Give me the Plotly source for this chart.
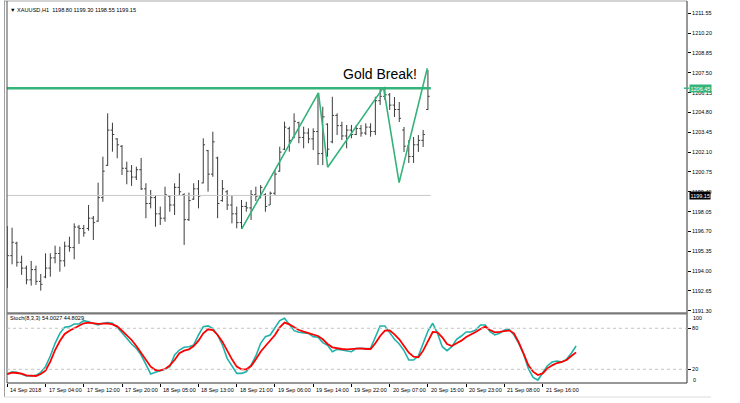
import plotly.graph_objects as go

W, H = 740, 403
def px(x): return x / W
def py(y): return 1 - y / H

# ---------------- data ----------------
high = [1197.07, 1196.95, 1196.00, 1195.05, 1194.37, 1194.69, 1194.37, 1193.80, 1195.21, 1195.21,
        1195.73, 1195.66, 1196.00, 1196.34, 1197.25, 1197.14, 1197.14, 1198.50, 1197.75, 1200.02,
        1201.79, 1204.74, 1204.10, 1203.04, 1202.58, 1201.45, 1201.22, 1201.11, 1201.70, 1199.98,
        1199.52, 1199.18, 1198.39, 1199.75, 1199.18, 1199.98, 1200.66, 1199.30, 1199.34, 1199.98,
        1200.20, 1203.04, 1202.25, 1203.49, 1201.79, 1200.20, 1199.52, 1199.18, 1198.39, 1198.84,
        1198.72, 1199.52, 1199.75, 1199.86, 1199.30, 1199.41, 1200.88, 1202.47, 1204.17, 1203.83,
        1204.74, 1204.17, 1203.83, 1203.72, 1203.72, 1206.10, 1205.19, 1204.06, 1205.87, 1204.74,
        1204.17, 1203.95, 1203.95, 1203.95, 1203.95, 1204.06, 1204.06, 1205.87, 1206.44, 1206.55,
        1206.12, 1205.85, 1205.51, 1203.81, 1202.92, 1203.13, 1203.26, 1203.61, 1207.69]
low = [1192.85, 1194.46, 1194.30, 1193.74, 1193.10, 1193.01, 1193.06, 1192.67, 1193.51, 1193.62,
       1194.53, 1193.96, 1194.30, 1195.32, 1194.80, 1195.85, 1196.34, 1196.75, 1196.12, 1197.36,
       1198.72, 1201.16, 1202.13, 1201.68, 1200.54, 1199.91, 1199.80, 1200.20, 1199.52, 1197.60,
       1198.27, 1197.02, 1197.14, 1197.36, 1198.04, 1197.82, 1199.18, 1195.78, 1197.41, 1198.84,
       1198.27, 1199.98, 1199.41, 1200.42, 1197.60, 1198.72, 1198.16, 1197.25, 1196.91, 1196.87,
       1198.04, 1197.48, 1198.77, 1198.95, 1198.04, 1198.50, 1199.18, 1200.77, 1202.24, 1202.13,
       1203.04, 1202.70, 1202.36, 1202.70, 1202.24, 1201.22, 1201.22, 1201.79, 1202.70, 1203.26,
       1202.92, 1202.36, 1203.04, 1203.26, 1203.15, 1203.26, 1203.15, 1203.26, 1205.31, 1205.65,
       1204.97, 1204.49, 1204.15, 1202.11, 1201.36, 1201.36, 1202.11, 1202.45, 1204.97]
open_ = [1196.20, 1195.05, 1195.90, 1194.60, 1194.20, 1193.40, 1194.10, 1193.30, 1193.60, 1194.20,
         1194.90, 1195.20, 1194.70, 1195.70, 1195.60, 1197.00, 1196.90, 1196.90, 1197.60, 1197.40,
         1199.00, 1201.20, 1203.60, 1203.00, 1202.50, 1201.00, 1200.80, 1200.40, 1200.90, 1199.60,
         1198.60, 1199.00, 1197.90, 1197.60, 1199.10, 1198.50, 1199.70, 1199.20, 1197.50, 1198.90,
         1199.60, 1200.00, 1202.20, 1200.60, 1201.70, 1198.80, 1199.40, 1198.50, 1197.90, 1197.30,
         1198.40, 1198.30, 1199.20, 1199.10, 1199.20, 1198.50, 1199.30, 1200.80, 1202.30, 1203.70,
         1203.10, 1204.10, 1203.10, 1203.40, 1203.00, 1203.50, 1202.00, 1204.00, 1202.80, 1204.60,
         1203.90, 1203.20, 1203.60, 1203.30, 1203.70, 1203.40, 1203.80, 1203.50, 1205.60, 1205.90,
         1206.00, 1205.30, 1205.00, 1203.60, 1202.50, 1201.80, 1202.60, 1202.90, 1205.00]
close = [1195.05, 1195.96, 1194.60, 1194.20, 1193.40, 1194.10, 1193.30, 1193.10, 1194.20, 1194.90,
         1195.20, 1194.70, 1195.70, 1195.60, 1197.00, 1196.90, 1196.60, 1197.60, 1197.30, 1199.00,
         1200.80, 1203.60, 1203.30, 1202.60, 1201.00, 1200.80, 1200.40, 1200.90, 1199.60, 1198.60,
         1199.00, 1197.90, 1197.60, 1199.20, 1198.50, 1199.70, 1199.40, 1197.50, 1198.80, 1199.60,
         1199.10, 1202.60, 1200.60, 1202.80, 1198.60, 1199.60, 1198.50, 1197.90, 1197.30, 1198.40,
         1198.30, 1199.20, 1199.10, 1199.70, 1198.40, 1199.30, 1200.60, 1202.10, 1203.80, 1202.90,
         1204.20, 1203.10, 1203.40, 1203.00, 1203.50, 1202.00, 1204.50, 1202.30, 1204.60, 1203.90,
         1203.20, 1203.60, 1203.30, 1203.70, 1203.40, 1203.80, 1203.50, 1205.60, 1205.90, 1206.00,
         1205.30, 1205.00, 1204.40, 1202.50, 1201.80, 1202.60, 1202.90, 1203.30, 1205.90]
bars = list(range(1, len(high) + 1))

stoch_main = [13.1, 16.5, 15.6, 13.1, 10.2, 10.2, 11.2, 15.6, 23.9, 39.5,
              58.0, 72.6, 81.4, 82.4, 86.3, 86.3, 91.2, 89.7, 87.3, 84.8,
              87.3, 88.3, 87.3, 81.4, 73.6, 65.3, 57.0, 50.7, 40.9, 27.3,
              13.1, 15.6, 18.0, 20.0, 23.9, 40.9, 48.2, 52.2, 53.1, 55.6,
              70.2, 82.4, 83.4, 80.0, 70.2, 55.6, 36.1, 24.8, 14.1, 14.1,
              16.5, 26.3, 39.5, 58.0, 67.8, 70.2, 81.4, 91.2, 94.6, 84.8,
              76.5, 74.1, 73.6, 72.6, 67.8, 66.8, 59.0, 55.1, 45.8, 49.2,
              48.2, 47.3, 45.8, 50.7, 50.2, 50.2, 50.7, 66.8, 83.4, 83.4,
              74.1, 63.9, 57.0, 47.3, 33.6, 33.6, 39.5, 57.0, 76.0, 87.3,
              72.6, 53.1, 47.3, 53.1, 63.9, 68.7, 74.6, 74.6, 77.5, 84.8,
              84.8, 75.1, 70.2, 72.6, 77.5, 78.5, 70.2, 58.0, 42.4, 21.4,
              8.3, 4.3, 14.1, 25.3, 30.7, 32.2, 30.7, 34.6, 43.4, 54.0027]
stoch_signal = [13.1, 15.1, 14.6, 13.6, 11.2, 10.2, 10.2, 13.1, 18.0, 31.2,
                48.2, 61.4, 71.7, 76.5, 80.4, 83.9, 87.3, 88.3, 87.3, 86.3,
                86.8, 87.3, 85.8, 82.9, 76.5, 70.2, 62.9, 54.1, 43.4, 34.6,
                23.9, 19.0, 18.5, 20.4, 25.8, 33.6, 43.4, 47.3, 49.2, 54.1,
                61.9, 72.6, 78.5, 77.5, 70.2, 60.4, 47.3, 34.6, 23.9, 20.0,
                20.0, 24.8, 34.6, 45.8, 54.1, 61.9, 70.2, 81.4, 88.3, 85.8,
                81.4, 77.5, 75.1, 72.6, 70.2, 68.7, 63.9, 57.0, 52.2, 50.7,
                49.7, 49.2, 49.7, 50.7, 50.7, 49.7, 49.7, 58.0, 68.7, 76.5,
                77.0, 71.2, 63.9, 54.1, 44.3, 38.5, 37.5, 47.3, 60.9, 74.6,
                74.1, 66.8, 57.0, 54.1, 58.0, 61.9, 67.3, 70.7, 74.6, 79.0,
                82.4, 77.5, 74.1, 74.6, 76.0, 77.0, 72.6, 59.5, 43.4, 26.3,
                16.5, 11.7, 14.1, 21.4, 25.8, 29.2, 30.7, 33.6, 39.5, 44.8029]
stoch_x = list(range(1, len(stoch_main) + 1))

zigzag_bar = [50.04, 66.1, 68.03, 79.7, 82.97, 88.87]
zigzag_price = [1196.87, 1206.14, 1201.07, 1206.51, 1200.02, 1207.81]

level_price = 1206.45
bid_price = 1199.15
line_span = [0.94, 89.6]

price_ticks = [1211.55, 1210.20, 1208.85, 1207.50, 1206.15, 1204.80, 1203.45, 1202.10,
               1200.75, 1199.40, 1198.05, 1196.70, 1195.35, 1194.00, 1192.65, 1191.30]
time_labels = ["14 Sep 2018", "17 Sep 04:00", "17 Sep 12:00", "17 Sep 20:00", "18 Sep 05:00",
               "18 Sep 13:00", "18 Sep 21:00", "19 Sep 06:00", "19 Sep 14:00", "19 Sep 22:00",
               "20 Sep 07:00", "20 Sep 15:00", "20 Sep 23:00", "21 Sep 08:00", "21 Sep 16:00"]
time_label_bars = [1, 9, 17, 25, 33, 41, 49, 57, 65, 73, 81, 89, 97, 105, 113]

header = "▼ XAUUSD,H1  1198.80 1199.30 1198.55 1199.15"
stoch_header = "Stoch(8,3,3) 54.0027 44.8029"

# ---------------- styling ----------------
FONT = "Liberation Sans, Arial, sans-serif"
GREEN = "#34B37A"
TEAL = "#20B2AA"
RED = "#FF0000"
BARC = "#3c3c3c"
XR = [0.94, 143.2]
XD = [px(7), px(687)]

fig = go.Figure()
fig.add_trace(go.Ohlc(x=bars, open=open_, high=high, low=low, close=close,
                      increasing=dict(line=dict(color=BARC, width=1)),
                      decreasing=dict(line=dict(color=BARC, width=1)),
                      tickwidth=0.38, xaxis="x", yaxis="y", showlegend=False,
                      hoverinfo="skip"))
fig.add_trace(go.Scatter(x=line_span, y=[bid_price, bid_price], mode="lines",
                         line=dict(color="#c8c8c8", width=1), xaxis="x", yaxis="y",
                         showlegend=False, hoverinfo="skip"))
fig.add_trace(go.Scatter(x=line_span, y=[level_price, level_price], mode="lines",
                         line=dict(color=GREEN, width=2.6), xaxis="x", yaxis="y",
                         showlegend=False, hoverinfo="skip"))
fig.add_trace(go.Scatter(x=zigzag_bar, y=zigzag_price, mode="lines",
                         line=dict(color=GREEN, width=1.6), xaxis="x", yaxis="y",
                         showlegend=False, hoverinfo="skip"))
fig.add_trace(go.Scatter(x=stoch_x, y=stoch_main, mode="lines",
                         line=dict(color=TEAL, width=1.6), xaxis="x2", yaxis="y2",
                         showlegend=False, hoverinfo="skip"))
fig.add_trace(go.Scatter(x=stoch_x, y=stoch_signal, mode="lines",
                         line=dict(color=RED, width=1.8), xaxis="x2", yaxis="y2",
                         showlegend=False, hoverinfo="skip"))

shapes = []
def pline(x0, y0, x1, y1, color, width=1, dash=None):
    d = dict(type="line", xref="paper", yref="paper", x0=px(x0), y0=py(y0),
             x1=px(x1), y1=py(y1), line=dict(color=color, width=width))
    if dash:
        d["line"]["dash"] = dash
    shapes.append(d)

pline(4.5, 0.5, 4.5, 397, "#a0a0a0")
pline(4.5, 397, 711, 397, "#dcdcdc")
pline(4.5, 1, 687, 1, "#a8a8a8")
pline(7, 1, 7, 383, "#505050")
pline(687, 1, 687, 383, "#303030")
pline(7, 313.4, 687, 313.4, "#7a7a7a", 2.2)
pline(7, 383, 687, 383, "#303030")
pline(684, 88.2, 689, 88.2, GREEN, 1.5)
for lv in (80, 20):
    shapes.append(dict(type="line", xref="paper", yref="y2", x0=XD[0], x1=XD[1], y0=lv, y1=lv,
                       line=dict(color="#c4c4c4", width=1, dash="dot")))

ann = []
ann.append(dict(text=header, xref="paper", yref="paper", x=px(8), y=py(10), xanchor="left",
                yanchor="middle", showarrow=False, font=dict(family=FONT, size=5.6, color="#000")))
ann.append(dict(text=stoch_header, xref="paper", yref="paper", x=px(8), y=py(318),
                xanchor="left", yanchor="middle", showarrow=False,
                font=dict(family=FONT, size=5.6, color="#000")))
ann.append(dict(text="Gold Break!", xref="paper", yref="paper", x=px(341), y=py(73.5),
                xanchor="left", yanchor="middle", showarrow=False,
                font=dict(family=FONT, size=14, color="#000")))
for b, t in zip(time_label_bars, time_labels):
    ann.append(dict(text=t, xref="x2", yref="paper", x=b, y=py(389.5), xanchor="left",
                    yanchor="middle", xshift=1, showarrow=False,
                    font=dict(family=FONT, size=5.5, color="#000")))
ann.append(dict(text="%.2f" % level_price, xref="paper", yref="y", x=px(689), y=level_price,
                xanchor="left", yanchor="middle", showarrow=False, bgcolor=GREEN, borderpad=0.5,
                font=dict(family=FONT, size=5.5, color="#fff")))
ann.append(dict(text="%.2f" % bid_price, xref="paper", yref="y", x=px(689), y=bid_price,
                xanchor="left", yanchor="middle", showarrow=False, bgcolor="#000", borderpad=0.5,
                font=dict(family=FONT, size=5.5, color="#fff")))
for lab, yy in (("100", 317.5), ("0", 379.5)):
    ann.append(dict(text=lab, xref="paper", yref="paper", x=px(690.5), y=py(yy), xanchor="left",
                    yanchor="middle", showarrow=False,
                    font=dict(family=FONT, size=5.5, color="#000")))

fig.update_layout(
    width=W, height=H, margin=dict(l=0, r=0, t=0, b=0),
    paper_bgcolor="white", plot_bgcolor="white", showlegend=False,
    xaxis=dict(domain=XD, range=XR, anchor="y", visible=False, rangeslider=dict(visible=False),
               fixedrange=True),
    yaxis=dict(domain=[py(312.5), py(2)], range=[1191.18, 1212.32], anchor="x", side="right",
               tickvals=price_ticks, ticktext=["%.2f" % v for v in price_ticks],
               ticks="outside", ticklen=3, tickcolor="#000", showgrid=False, zeroline=False,
               showline=False, tickfont=dict(family=FONT, size=5.5, color="#000")),
    xaxis2=dict(domain=XD, range=XR, anchor="y2", tickvals=time_label_bars, ticks="outside",
                ticklen=3, tickcolor="#000", showticklabels=False, showgrid=False,
                zeroline=False, showline=False),
    yaxis2=dict(domain=[py(383), py(314.6)], range=[0, 100], anchor="x2", side="right",
                tickvals=[80, 20], ticktext=["80", "20"], ticks="outside", ticklen=3,
                tickcolor="#000", showgrid=False, zeroline=False, showline=False,
                tickfont=dict(family=FONT, size=5.5, color="#000")),
    shapes=shapes, annotations=ann,
)

fig.write_html("out.html", config={"displayModeBar": False},
               post_script="document.body.style.margin='0';document.body.style.overflow='hidden';")
